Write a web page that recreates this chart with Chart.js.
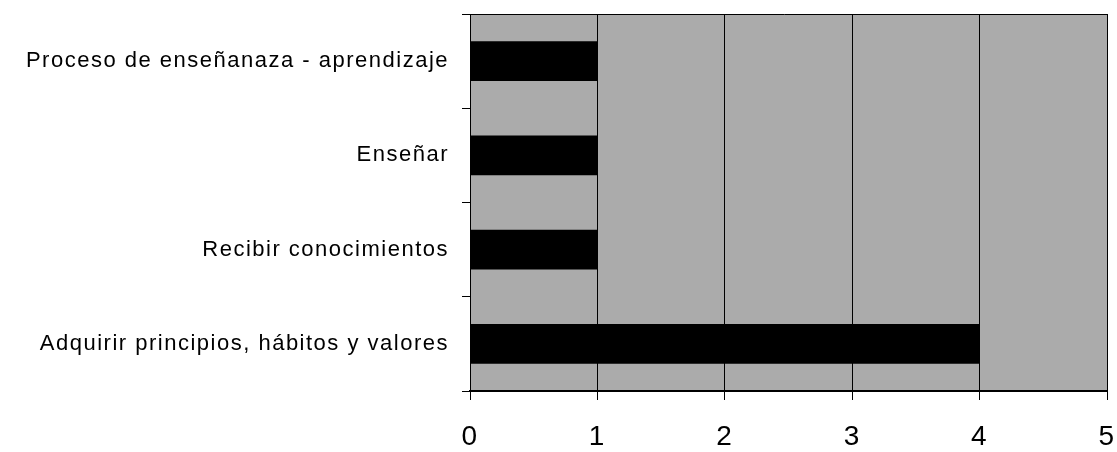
<!DOCTYPE html>
<html>
<head>
<meta charset="utf-8">
<script src="https://cdn.jsdelivr.net/npm/chart.js@4"></script>
<style>
  html, body { margin: 0; padding: 0; background: #fff; }
  #wrap { width: 1117px; height: 452px; }
</style>
</head>
<body>
<div id="wrap"><canvas id="graficoRespuestas"></canvas></div>
<script>
var categorias = [
	'Proceso de enseñanaza - aprendizaje',
	'Enseñar',
	'Recibir conocimientos',
	'Adquirir principios, hábitos y valores'
];
var valores = [1, 1, 1, 4];
var ticksX = [0, 1, 2, 3, 4, 5];

// fondo gris del área de trazado y borde superior
var fondoArea = {
	id: 'fondoArea',
	beforeDraw: function(chart) {
		var ctx = chart.ctx, a = chart.chartArea;
		ctx.letterSpacing = '1.5px';
		ctx.save();
		ctx.fillStyle = '#ababab';
		ctx.fillRect(a.left, a.top, a.right - a.left, a.bottom - a.top);
		ctx.restore();
	},
	afterDraw: function(chart) {
		var ctx = chart.ctx, a = chart.chartArea;
		ctx.save();
		ctx.strokeStyle = '#000';
		ctx.lineWidth = 1;
		ctx.beginPath();
		ctx.moveTo(a.left - 8, a.top + 0.5);
		ctx.lineTo(a.right, a.top + 0.5);
		ctx.stroke();
		ctx.restore();
	}
};

new Chart(document.getElementById('graficoRespuestas').getContext('2d'), {
	type: 'bar',
	data: {
		labels: categorias,
		datasets: [{
			data: valores,
			backgroundColor: '#000',
			borderWidth: 0,
			barPercentage: 0.42,
			categoryPercentage: 1
		}]
	},
	options: {
		indexAxis: 'y',
		responsive: true,
		maintainAspectRatio: false,
		animation: false,
		layout: { padding: { left: 0, top: 14, right: 10, bottom: 0 } },
		plugins: { legend: { display: false }, tooltip: { enabled: false } },
		scales: {
			x: {
				min: 0,
				max: 5,
				afterBuildTicks: function(scale) {
					scale.ticks = ticksX.map(function(v) { return { value: v }; });
				},
				afterFit: function(scale) {
					scale.height = 61;
					scale.paddingLeft = 0;
					scale.paddingRight = 0;
				},
				ticks: {
					color: '#000',
					padding: 20,
					font: { family: 'Arial, "Liberation Sans"', size: 28 }
				},
				grid: { color: '#000', lineWidth: 1, tickLength: 9 },
				border: { display: true, color: '#000', width: 2 }
			},
			y: {
				afterFit: function(scale) {
					scale.width = 470;
					scale.paddingTop = 0;
					scale.paddingBottom = 0;
				},
				ticks: {
					color: '#000',
					padding: 13,
					font: { family: 'Arial, "Liberation Sans"', size: 22 }
				},
				grid: { offset: true, drawOnChartArea: false, drawTicks: true, tickLength: 8, color: '#000' },
				border: { display: true, color: '#000', width: 1 }
			}
		}
	},
	plugins: [fondoArea]
});
</script>
</body>
</html>
